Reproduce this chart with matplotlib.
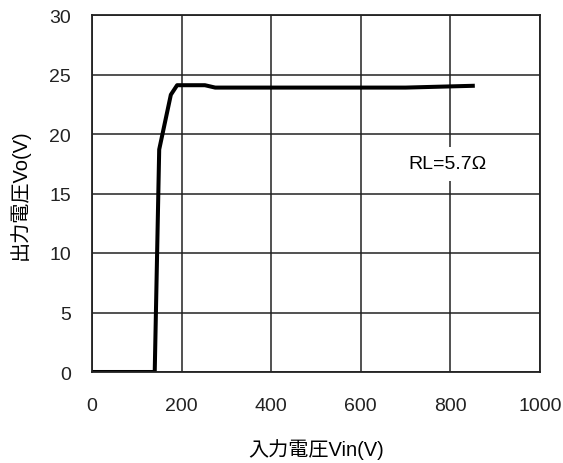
import matplotlib
matplotlib.use('Agg')
import matplotlib.pyplot as plt

# données
vin = [0, 140, 150, 176, 190, 252, 275, 500, 700, 850]
vo = [0, 0, 18.7, 23.3, 24.1, 24.1, 23.9, 23.9, 23.9, 24.05]

x_ticks = [0, 200, 400, 600, 800, 1000]
y_ticks = [0, 5, 10, 15, 20, 25, 30]

plt.rcParams['font.family'] = ['Liberation Sans', 'Noto Sans CJK JP']

fig = plt.figure(figsize=(5.63, 4.64), dpi=100)
ax = fig.add_axes([92 / 563, 1 - 373 / 464, 448 / 563, 357 / 464])

ax.plot(vin, vo, color='black', linewidth=2.9, solid_joinstyle='round')

ax.set_xlim(0, 1000)
ax.set_ylim(0, 30)
ax.set_xticks(x_ticks)
ax.set_yticks(y_ticks)
ax.grid(True, color='#222222', linewidth=1.1)
for s in ax.spines.values():
    s.set_linewidth(1.3)
    s.set_color('#222222')
ax.tick_params(length=0, labelsize=14, colors='#222222')
ax.tick_params(axis='x', pad=18)
ax.tick_params(axis='y', pad=15)

ax.set_xlabel('入力電圧Vin(V)', fontsize=14.5, labelpad=17)
ax.set_ylabel('出力電圧Vo(V)', fontsize=14.5, labelpad=14)

ax.text(793, 17.5, 'RL=5.7Ω', fontsize=14, ha='center', va='center',
        bbox=dict(facecolor='white', edgecolor='none', pad=6))

plt.savefig('out.png', dpi=100)
plt.close()
